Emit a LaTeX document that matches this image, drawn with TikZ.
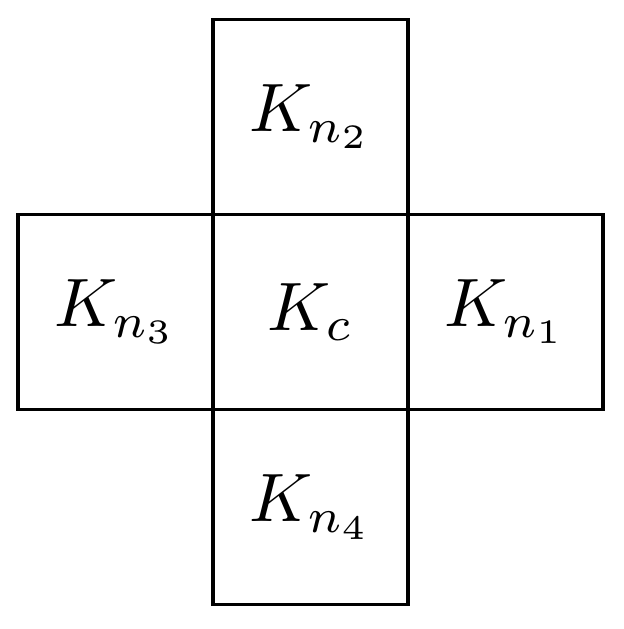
\documentclass[tikz,border=0pt]{standalone}
\usepackage{amsmath,amssymb}
\usepackage{tikz}
\usetikzlibrary{positioning}

\begin{document}
\begin{tikzpicture}[
  cell/.style={draw, line width=1pt, minimum size=1cm, inner sep=0pt, outer sep=0pt, scale=2, transform shape}]
\useasboundingbox (-3.185,-3.251) rectangle (3.205,3.2);
% centre block
\node[cell] (kc) at (0,0) {$K_c$};
% neighbours
\node[cell, right=0pt of kc] (kn1) {$K_{n_1}$};
\node[cell, above=0pt of kc] (kn2) {$K_{n_2}$};
\node[cell, left=0pt of kc] (kn3) {$K_{n_3}$};
\node[cell, below=0pt of kc] (kn4) {$K_{n_4}$};
\end{tikzpicture}
\end{document}
